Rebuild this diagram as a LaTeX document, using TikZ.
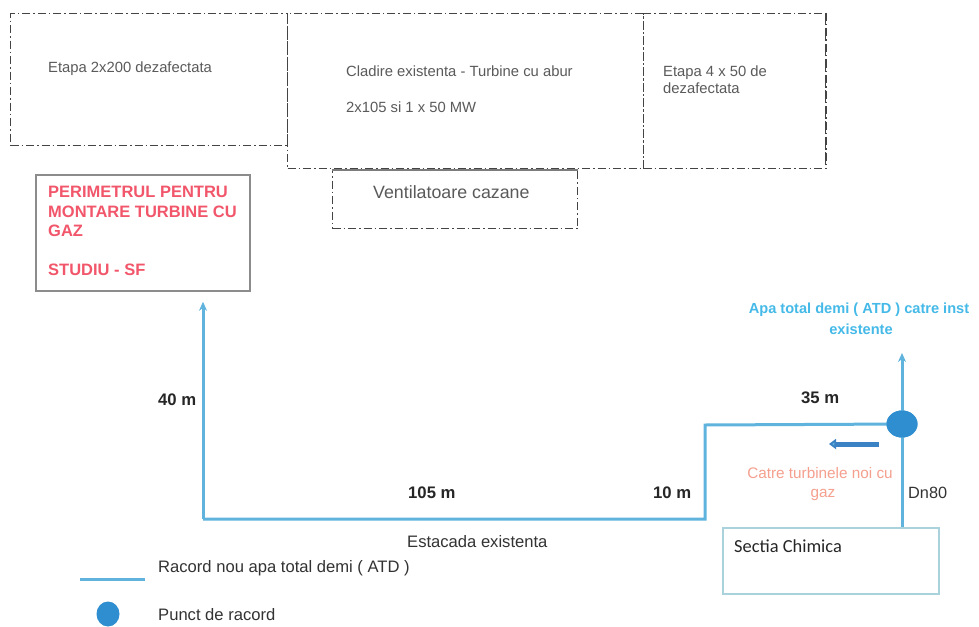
\documentclass[tikz,border=0pt]{standalone}
\usepackage{fontspec}
\setmainfont{Liberation Sans}
\newfontfamily\carl{Carlito}
\usetikzlibrary{arrows.meta,shapes.geometric}
\definecolor{pipeblue}{HTML}{5FB3DD}
\definecolor{dotblue}{HTML}{2E8ED0}
\definecolor{flowblue}{HTML}{3A82C4}
\definecolor{redtxt}{HTML}{F2566B}
\definecolor{salmon}{HTML}{F5A08E}
\definecolor{cyantxt}{HTML}{45BAE8}
\definecolor{boxgray}{HTML}{444444}
\definecolor{labgray}{HTML}{5A5A5A}
\definecolor{secbox}{HTML}{A9D2DD}
\begin{document}
\begin{tikzpicture}[x=1pt,y=-1pt,
  dd/.style={draw=boxgray,line width=1.2pt,dash pattern=on 8pt off 3pt on 1.5pt off 3pt,anchor=north west,inner sep=0pt},
  pipe/.style={draw=pipeblue,line width=3pt},
  boxlab/.style={anchor=base west,inner sep=0pt,text=labgray,font=\fontsize{14.8}{17}\selectfont},
  redlab/.style={anchor=base west,inner sep=0pt,text=redtxt,font=\fontsize{16.5}{19}\selectfont\bfseries},
  numlab/.style={anchor=base west,inner sep=0pt,text=black!85,font=\fontsize{16.7}{19}\selectfont\bfseries},
  plain/.style={anchor=base west,inner sep=0pt,text=black!80,font=\fontsize{16.6}{19}\selectfont},
  dot/.style={ellipse,fill=dotblue,inner sep=0pt}
]
\useasboundingbox (0,0) rectangle (979,626);
\fill[white] (0,0) rectangle (979,626);

% dashed building boxes
\node[dd,minimum width=277pt,minimum height=132pt] (b1) at (10,13) {};
\node[dd,minimum width=356pt,minimum height=155pt] (b2) at (287,13) {};
\node[dd,minimum width=182pt,minimum height=155pt] (b3) at (643,13) {};
\draw[boxgray,line width=2.2pt,dash pattern=on 8pt off 3pt on 1.5pt off 3pt] (b3.north east) -- (b3.south east);
\node[dd,minimum width=245pt,minimum height=58pt] (vent) at (332,170) {};
\draw[boxgray!70,line width=1.4pt] (vent.north west) -- (vent.north east);

\node[boxlab] (t1) at (48,73) {Etapa 2x200 dezafectata};
\node[boxlab] (t2) at (346,77) {Cladire existenta - Turbine cu abur};
\node[boxlab] (t3) at (346,112) {2x105 si 1 x 50 MW};
\node[boxlab] (t4) at (663,76) {Etapa 4 x 50 de};
\node[boxlab] (t5) at (663,93) {dezafectata};
\node[boxlab,font=\fontsize{17.8}{20}\selectfont] (t6) at (373,198) {Ventilatoare cazane};

% red perimeter box
\node[draw=black!45,line width=1.8pt,anchor=north west,minimum width=214pt,minimum height=116pt,inner sep=0pt] (red) at (35,174) {};
\node[redlab] (r1) at (48,197) {PERIMETRUL PENTRU};
\node[redlab] (r2) at (48,217) {MONTARE TURBINE CU};
\node[redlab] (r3) at (48,236) {GAZ};
\node[redlab] (r4) at (48,275) {STUDIU - SF};

% Sectia Chimica box
\node[draw=secbox,line width=1.8pt,anchor=north west,minimum width=216pt,minimum height=66pt,inner sep=0pt] (sec) at (722,527) {};
\node[anchor=base west,inner sep=0pt,text=black!85,font=\carl\fontsize{18.4}{20}\selectfont] (sect) at (734,552) {Sectia Chimica};

% pipe route
\coordinate (c1) at (203,519);
\coordinate (c2) at (705,519);
\coordinate (c3) at (705,425);
\coordinate (pup) at (902,353);
\node[dot,minimum width=31pt,minimum height=27pt] (pt) at (902,424) {};
\draw[pipe,-{Stealth[length=9pt,width=8pt]}] (c1) -- ([yshift=-10pt]red.south -| c1);
\draw[pipe] (c1) -- (c2) -- (c3) -- (pt.center);
\draw[pipe] (pt.center) -- (sec.north -| pt);
\draw[pipe,-{Stealth[length=9pt,width=8pt]}] (pt.center) -- (pup);
\node[dot,minimum width=31pt,minimum height=27pt] at (pt) {};

% flow arrow
\coordinate (fa1) at (879,444);
\coordinate (fa2) at (829,444);
\draw[flowblue,line width=5pt,-{Triangle[length=7pt,width=10pt,fill=pipeblue]}] (fa1) -- (fa2);

% labels
\node[anchor=base,inner sep=0pt,text=cyantxt,font=\fontsize{14.6}{17}\selectfont\bfseries] (a1) at (859,313) {Apa total demi ( ATD ) catre inst};
\node[anchor=base,inner sep=0pt,text=cyantxt,font=\fontsize{14.6}{17}\selectfont\bfseries] (a2) at (861,334) {existente};
\node[numlab] (m35) at (801,403) {35 m};
\node[numlab] (m40) at (158,405) {40 m};
\node[numlab] (m105) at (408,498) {105 m};
\node[numlab] (m10) at (653,498) {10 m};
\node[anchor=base,inner sep=0pt,text=salmon,font=\fontsize{15.3}{18}\selectfont] (g1) at (820,478) {Catre turbinele noi cu};
\node[anchor=base,inner sep=0pt,text=salmon,font=\fontsize{15.3}{18}\selectfont] (g2) at (823,497) {gaz};
\node[plain,font=\fontsize{16.3}{19}\selectfont] (dn) at (908,498) {Dn80};
\node[plain] (est) at (407,547) {Estacada existenta};

% legend
\coordinate (l1) at (80,579);
\coordinate (l2) at (145,579);
\draw[pipe] (l1) -- (l2);
\node[dot,minimum width=23pt,minimum height=25pt] (ld) at (108,614) {};
\node[plain] (lt1) at (158,572) {Racord nou apa total demi ( ATD )};
\node[plain] (lt2) at (158,620) {Punct de racord};
\end{tikzpicture}
\end{document}
